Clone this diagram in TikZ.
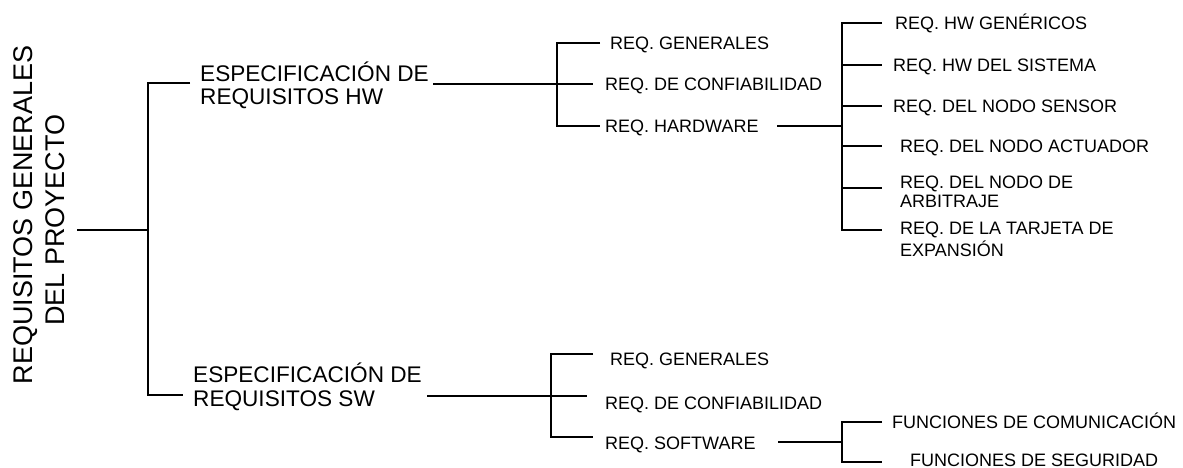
\documentclass[tikz,border=0pt]{standalone}
\usepackage{fontspec}
\setmainfont{Liberation Sans}
\begin{document}
\begin{tikzpicture}[x=1pt,y=-1pt,
  conn/.style={line width=1.6pt, line join=miter},
  heavy/.style={line width=2.8pt},
  leaf/.style={anchor=base west, inner sep=0pt, font=\fontsize{18}{21}\selectfont},
  lvlone/.style={anchor=base west, inner sep=0pt, font=\fontsize{22.6}{26}\selectfont},
  rootlbl/.style={anchor=base, inner sep=0pt, rotate=90, font=\fontsize{27}{31}\selectfont}]
\useasboundingbox (0,0) rectangle (1183,468);
\clip (0,0) rectangle (1183,468);

% ---------- root ----------
\node[rootlbl] (r1) at (32,215) {REQUISITOS GENERALES};
\node[rootlbl] (r2) at (64,220) {DEL PROYECTO};
\coordinate (r0) at (77,230);
\coordinate (j0) at (148,230);
\coordinate (j0t) at (148,83);
\coordinate (j0b) at (148,395);
\coordinate (hwA) at (190,83);
\coordinate (swA) at (183,395);
\draw[conn] (r0) -- (j0);
\draw[heavy] ([xshift=-33pt]j0) -- (j0);
\draw[conn] (hwA) -- (j0t) -- (j0b) -- (swA);

% ---------- HW ----------
\node[lvlone] (hw1) at (200,82) {ESPECIFICACIÓN DE};
\node[lvlone] (hw2) at (200,105) {REQUISITOS HW};
\coordinate (hwL) at (433,84);
\coordinate (j1) at (557,84);
\coordinate (j1t) at (557,43);
\coordinate (j1b) at (557,126);
\draw[conn] (hwL) -- (j1) -- ++(36,0);
\draw[heavy] ([xshift=-42pt]j1) -- (j1);
\draw[conn] ([xshift=43pt]j1t) -- (j1t) -- (j1b) -- ++(43,0);

\node[leaf] (hg) at (610,50) {REQ. GENERALES};
\node[leaf] (hc) at (605,91) {REQ. DE CONFIABILIDAD};
\node[leaf] (hh) at (605,132) {REQ. HARDWARE};

\coordinate (hhL) at (777,126);
\coordinate (j2) at (842,126);
\coordinate (j2t) at (842,23);
\coordinate (j2b) at (842,230);
\draw[conn] (hhL) -- (j2);
\draw[conn] ([xshift=40pt]j2t) -- (j2t) -- (j2b) -- ++(40,0);
\foreach \yy in {65,106,146,188}
  \draw[conn] (j2 |- 0,\yy) -- ++(40,0);

\node[leaf] (l1) at (895,30) {REQ. HW GENÉRICOS};
\node[leaf] (l2) at (893,71.5) {REQ. HW DEL SISTEMA};
\node[leaf] (l3) at (893,113) {REQ. DEL NODO SENSOR};
\node[leaf] (l4) at (900,153) {REQ. DEL NODO ACTUADOR};
\node[leaf] (l5a) at (900,188) {REQ. DEL NODO DE};
\node[leaf] (l5b) at (900,207) {ARBITRAJE};
\node[leaf] (l6a) at (900,234) {REQ. DE LA TARJETA DE};
\node[leaf] (l6b) at (900,256) {EXPANSIÓN};

% ---------- SW ----------
\node[lvlone] (sw1) at (193,382) {ESPECIFICACIÓN DE};
\node[lvlone] (sw2) at (193,406) {REQUISITOS SW};
\coordinate (swL) at (427,396);
\coordinate (j3) at (551,396);
\coordinate (j3t) at (551,354);
\coordinate (j3b) at (551,437);
\draw[conn] (swL) -- (j3) -- ++(36,0);
\draw[heavy] ([xshift=-41pt]j3) -- (j3);
\draw[conn] ([xshift=42pt]j3t) -- (j3t) -- (j3b) -- ++(42,0);

\node[leaf] (sg) at (610,365) {REQ. GENERALES};
\node[leaf] (sc) at (605,409) {REQ. DE CONFIABILIDAD};
\node[leaf] (ss) at (605,449) {REQ. SOFTWARE};

\coordinate (ssL) at (778,442);
\coordinate (j4) at (842,442);
\coordinate (j4t) at (842,422);
\coordinate (j4b) at (842,462);
\draw[conn] (ssL) -- (j4);
\draw[conn] ([xshift=40pt]j4t) -- (j4t) -- (j4b) -- ++(40,0);

\node[leaf] (f1) at (892,428.5) {FUNCIONES DE COMUNICACIÓN};
\node[leaf] (f2) at (910,466) {FUNCIONES DE SEGURIDAD};
\end{tikzpicture}
\end{document}
